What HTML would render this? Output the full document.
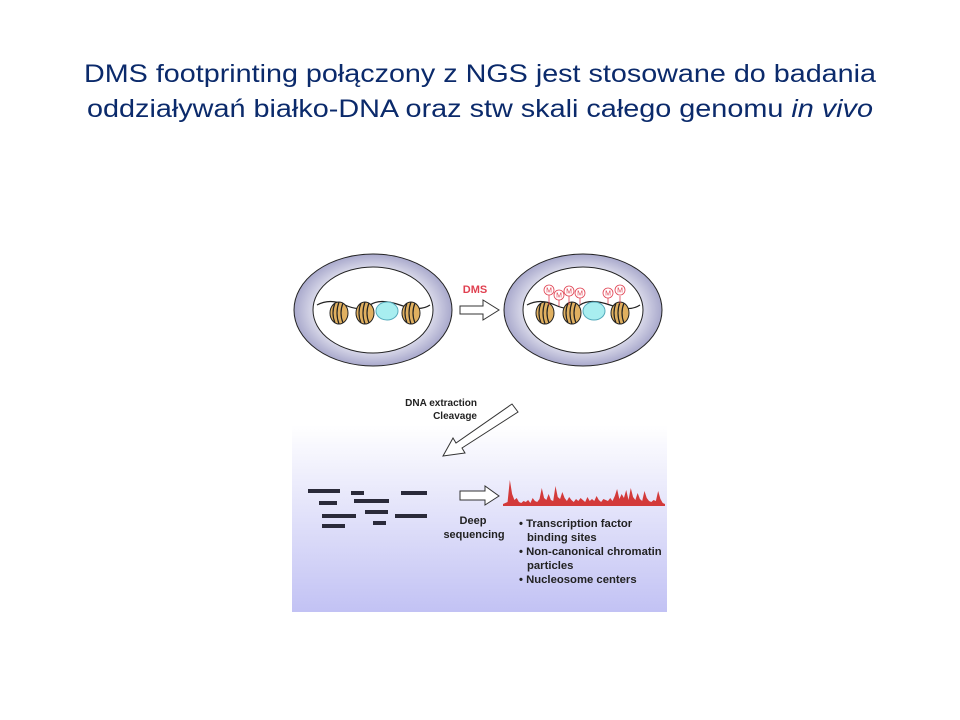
<!DOCTYPE html>
<html><head><meta charset="utf-8"><style>
body{margin:0;background:#fff}
svg{display:block;font-family:"Liberation Sans",sans-serif}
</style></head><body>
<svg width="960" height="720" viewBox="0 0 960 720">
<defs>
<linearGradient id="bg" x1="0" y1="0" x2="0" y2="1"><stop offset="0" stop-color="#ffffff"/><stop offset="1" stop-color="#c2c2f4"/></linearGradient>
<radialGradient id="ring" cx="0.5" cy="0.5" r="0.5"><stop offset="0.7" stop-color="#e4e4f0"/><stop offset="1" stop-color="#a9a9cc"/></radialGradient>
<g id="nuc"><ellipse cx="0" cy="0" rx="9" ry="11" fill="#e0b060" stroke="#222" stroke-width="1"/><path d="M-4 -10 Q-8 0 -4 10 M0 -11 Q-4 0 0 11 M4 -10 Q0 0 4 10" fill="none" stroke="#222" stroke-width="1.2"/></g>
</defs>
<g fill="#0b2a6b" font-size="25">
<text x="84" y="82" textLength="792" lengthAdjust="spacingAndGlyphs">DMS footprinting połączony z NGS jest stosowane do badania</text>
<text x="87" y="117" textLength="786" lengthAdjust="spacingAndGlyphs">oddziaływań białko-DNA oraz stw skali całego genomu <tspan font-style="italic">in vivo</tspan></text>
</g>
<rect x="292" y="425" width="375" height="187" fill="url(#bg)"/>
<g>
<ellipse cx="373" cy="310" rx="79" ry="56" fill="url(#ring)" stroke="#222" stroke-width="1"/>
<ellipse cx="373" cy="310" rx="60" ry="43" fill="#fff" stroke="#222" stroke-width="1"/>
<path d="M317 305 Q330 298 345 305 T370 305 T400 305 T430 305" fill="none" stroke="#222" stroke-width="1.2"/>
<use href="#nuc" x="339" y="313"/><use href="#nuc" x="365" y="313"/><use href="#nuc" x="411" y="313"/>
<ellipse cx="387" cy="311" rx="11" ry="9" fill="#a8eef0" stroke="#5ab" stroke-width="1"/>
</g>
<g>
<text x="475" y="293" font-size="11" font-weight="bold" fill="#e04050" text-anchor="middle">DMS</text>
<path d="M460 306 H483 V300 L499 310 L483 320 V314 H460 Z" fill="#fff" stroke="#333"/>
</g>
<g>
<ellipse cx="583" cy="310" rx="79" ry="56" fill="url(#ring)" stroke="#222" stroke-width="1"/>
<ellipse cx="583" cy="310" rx="60" ry="43" fill="#fff" stroke="#222" stroke-width="1"/>
<path d="M527 305 Q540 298 555 305 T580 305 T610 305 T640 305" fill="none" stroke="#222" stroke-width="1.2"/>
<use href="#nuc" x="545" y="313"/><use href="#nuc" x="572" y="313"/><use href="#nuc" x="620" y="313"/>
<ellipse cx="594" cy="311" rx="11" ry="9" fill="#a8eef0" stroke="#5ab" stroke-width="1"/>
<g fill="#fff" stroke="#e04050" stroke-width="0.8">
<line x1="549" y1="295" x2="549" y2="305"/><circle cx="549" cy="290" r="5"/>
<line x1="559" y1="300" x2="559" y2="306"/><circle cx="559" cy="295" r="5"/>
<line x1="569" y1="296" x2="569" y2="305"/><circle cx="569" cy="291" r="5"/>
<line x1="580" y1="298" x2="580" y2="304"/><circle cx="580" cy="293" r="5"/>
<line x1="608" y1="298" x2="608" y2="304"/><circle cx="608" cy="293" r="5"/>
<line x1="620" y1="296" x2="620" y2="304"/><circle cx="620" cy="290" r="5"/>
</g>
<g fill="#e04050" font-size="7" text-anchor="middle">
<text x="549" y="292.5">M</text><text x="559" y="297.5">M</text><text x="569" y="293.5">M</text><text x="580" y="295.5">M</text><text x="608" y="295.5">M</text><text x="620" y="292.5">M</text>
</g>
</g>
<g>
<text x="477" y="406" font-size="10" font-weight="bold" fill="#222" text-anchor="end">DNA extraction</text>
<text x="477" y="419" font-size="10" font-weight="bold" fill="#222" text-anchor="end">Cleavage</text>
<path d="M512 404 L518 412 L462 448 L465 453 L443 456 L453 438 L456 443 Z" fill="#fff" stroke="#333"/>
</g>
<g fill="#2a2a3a">
<rect x="308" y="489" width="32" height="4"/><rect x="351" y="491" width="13" height="4"/><rect x="401" y="491" width="26" height="4"/>
<rect x="319" y="501" width="18" height="4"/><rect x="354" y="499" width="35" height="4"/>
<rect x="322" y="514" width="34" height="4"/><rect x="365" y="510" width="23" height="4"/><rect x="395" y="514" width="32" height="4"/>
<rect x="322" y="524" width="23" height="4"/><rect x="373" y="521" width="13" height="4"/>
</g>
<g>
<path d="M460 491 H485 V486 L499 496 L485 505 V500 H460 Z" fill="#fff" stroke="#333"/>
<text x="473" y="524" font-size="11" font-weight="bold" fill="#222" text-anchor="middle">Deep</text>
<text x="474" y="538" font-size="11" font-weight="bold" fill="#222" text-anchor="middle">sequencing</text>
</g>
<polygon id="signal" fill="#d33a3a"/>
<g font-size="11.3" font-weight="bold" fill="#222">
<text x="519" y="527">• Transcription factor</text>
<text x="527" y="541">binding sites</text>
<text x="519" y="555">• Non-canonical chromatin</text>
<text x="527" y="569">particles</text>
<text x="519" y="583">• Nucleosome centers</text>
</g>
</svg>
<script>
const signalValues=[2,3,4,26,12,6,8,4,3,5,4,6,3,8,5,4,7,18,8,6,12,6,5,20,9,7,14,8,5,9,6,4,7,5,8,6,4,9,5,7,5,10,6,4,7,6,5,8,5,10,17,7,12,8,16,6,18,9,6,13,7,5,15,8,5,4,6,5,15,7,3,2];
const x0=503,x1=665,base=506,scale=1.0;
const pts=[[x0,base]];
signalValues.forEach((v,i)=>{const x=x0+i*(x1-x0)/(signalValues.length-1);pts.push([x,base-v*scale]);});
pts.push([x1,base]);
document.getElementById('signal').setAttribute('points',pts.map(p=>p.join(',')).join(' '));
</script>
</body></html>
